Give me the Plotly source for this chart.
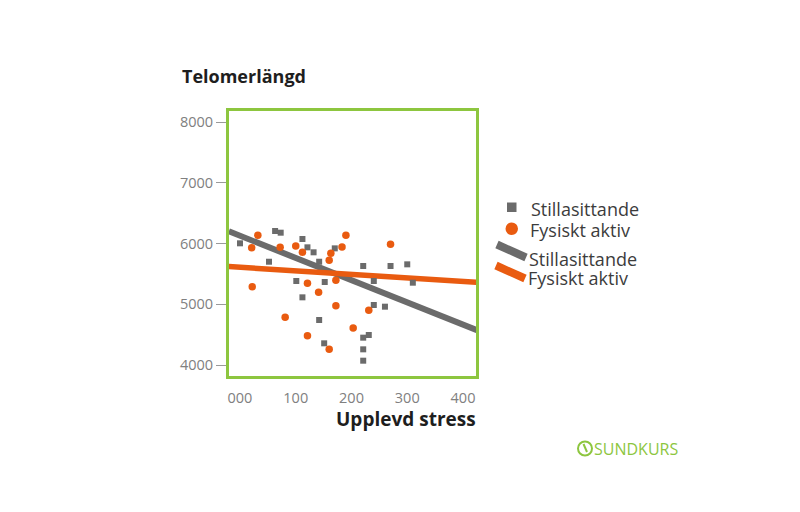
import plotly.graph_objects as go

# ---- data ----
x_ticks = [0, 100, 200, 300, 400]
x_tick_labels = ["000", "100", "200", "300", "400"]
y_ticks = [4000, 5000, 6000, 7000, 8000]
y_tick_labels = ["4000", "5000", "6000", "7000", "8000"]

sed_name = "Stillasittande"
act_name = "Fysiskt aktiv"

sed_x = [0, 63, 73, 52, 112, 121, 132, 142, 170, 101, 152, 112, 142, 151,
         221, 240, 240, 260, 270, 300, 310, 221, 231, 221, 221]
sed_y = [6003, 6206, 6178, 5700, 6074, 5937, 5855, 5700, 5920, 5383, 5366, 5114, 4741, 4357,
         5630, 5383, 4988, 4960, 5630, 5657, 5355, 4450, 4494, 4258, 4071]

act_x = [32, 21, 22, 72, 100, 112, 81, 121, 141, 121, 160, 163, 160, 190, 183, 172, 172, 203, 231, 270]
act_y = [6135, 5931, 5289, 5937, 5959, 5855, 4785, 5345, 5197, 4482, 4258, 5839, 5723, 6135,
         5942, 5394, 4976, 4609, 4900, 5987]

trend_x = [-20, 425]
sed_trend_y = [6201, 4574]
act_trend_y = [5620, 5361]

x_range = [-19.7, 423.3]
y_range = [3819, 8181]

# ---- styles ----
GRAY = "#6b6b6b"
ORANGE = "#e95b10"
GREEN = "#8dc63f"
FONT = "Open Sans"

W, H = 800, 512
L, R, T, B = 229, 476, 111, 376


def px(xp):
    return (xp - L) / (R - L)


def py(yp):
    return (B - yp) / (B - T)


fig = go.Figure()

fig.add_trace(go.Scatter(x=trend_x, y=sed_trend_y, mode="lines", name=sed_name,
                         line=dict(color=GRAY, width=6), showlegend=False, cliponaxis=True))
fig.add_trace(go.Scatter(x=trend_x, y=act_trend_y, mode="lines", name=act_name,
                         line=dict(color=ORANGE, width=5.5), showlegend=False, cliponaxis=True))
fig.add_trace(go.Scatter(x=sed_x, y=sed_y, mode="markers", name=sed_name,
                         marker=dict(symbol="square", size=6, color=GRAY), showlegend=False))
fig.add_trace(go.Scatter(x=act_x, y=act_y, mode="markers", name=act_name,
                         marker=dict(symbol="circle", size=7.5, color=ORANGE), showlegend=False))

shapes = []
annotations = []

# custom legend (markers + diagonal line swatches)
shapes.append(dict(type="rect", xref="paper", yref="paper",
                   x0=px(507), x1=px(516.5), y0=py(202.5), y1=py(212),
                   fillcolor=GRAY, line=dict(width=0)))
shapes.append(dict(type="circle", xref="paper", yref="paper",
                   x0=px(505.5), x1=px(518), y0=py(222.5), y1=py(235),
                   fillcolor=ORANGE, line=dict(width=0)))
shapes.append(dict(type="line", xref="paper", yref="paper",
                   x0=px(497), y0=py(244.5), x1=px(526), y1=py(257.5),
                   line=dict(color=GRAY, width=8)))
shapes.append(dict(type="line", xref="paper", yref="paper",
                   x0=px(496), y0=py(265.5), x1=px(525), y1=py(278.5)),
              )
shapes[-1]["line"] = dict(color=ORANGE, width=8)

leg_items = [(sed_name, 529, 209), (act_name, 528, 230), (sed_name, 527, 258.5), (act_name, 526, 277.5)]
for txt, xl, yc in leg_items:
    annotations.append(dict(text=txt, xref="paper", yref="paper", x=px(xl), y=py(yc),
                            xanchor="left", yanchor="middle", showarrow=False,
                            font=dict(family=FONT, size=18, color="#3c3c3c")))

# axis titles
annotations.append(dict(text="<b>Telomerlängd</b>", xref="paper", yref="paper",
                        x=px(180), y=py(76), xanchor="left", yanchor="middle", showarrow=False,
                        font=dict(family=FONT, size=18, color="#1e1e1e")))
annotations.append(dict(text="<b>Upplevd stress</b>", xref="paper", yref="paper",
                        x=px(478), y=py(419), xanchor="right", yanchor="middle", showarrow=False,
                        font=dict(family=FONT, size=19, color="#1e1e1e")))

# logo
shapes.append(dict(type="circle", xref="paper", yref="paper",
                   x0=px(578), x1=px(592), y0=py(441.5), y1=py(455.5),
                   fillcolor="rgba(0,0,0,0)", line=dict(color=GREEN, width=2)))
shapes.append(dict(type="line", xref="paper", yref="paper",
                   x0=px(583.5), y0=py(444), x1=px(587), y1=py(452),
                   line=dict(color=GREEN, width=2)))
annotations.append(dict(text="SUNDKURS", xref="paper", yref="paper",
                        x=px(592), y=py(449), xanchor="left", yanchor="middle", showarrow=False,
                        font=dict(family=FONT, size=16, color=GREEN)))

fig.update_layout(
    width=W, height=H,
    margin=dict(l=L, r=W - R, t=T, b=H - B, pad=0),
    paper_bgcolor="white", plot_bgcolor="white",
    font=dict(family=FONT, size=14, color="#808080"),
    shapes=shapes, annotations=annotations,
    showlegend=False,
)
fig.update_xaxes(range=x_range, tickvals=x_ticks, ticktext=x_tick_labels,
                 showgrid=False, zeroline=False, showline=True, linecolor=GREEN, linewidth=3,
                 mirror=True, ticks="outside", ticklen=7, tickcolor="rgba(0,0,0,0)",
                 tickfont=dict(family=FONT, size=14.5, color="#808080"))
fig.update_yaxes(range=y_range, tickvals=y_ticks, ticktext=y_tick_labels,
                 showgrid=False, zeroline=False, showline=True, linecolor=GREEN, linewidth=3,
                 mirror=True, ticks="outside", ticklen=10, tickwidth=1, tickcolor="#9a9a9a",
                 tickfont=dict(family=FONT, size=14.5, color="#808080"))

fig.write_html("out.html")
